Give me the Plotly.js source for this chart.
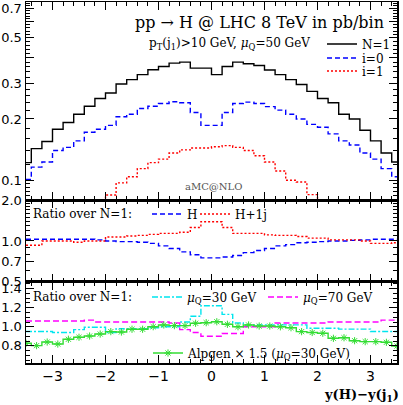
<!DOCTYPE html>
<html>
<head>
<meta charset="utf-8">
<script src="https://cdn.plot.ly/plotly-3.0.1.min.js"></script>
<style>
html, body { margin: 0; padding: 0; background: #fff; }
#plot { width: 403px; height: 405px; }
</style>
</head>
<body>
<div id="plot"></div>
<script>
// bin centres of y(H)-y(j1), bins are 0.2 wide
let binCentres = [-3.5, -3.3, -3.1, -2.9, -2.7, -2.5, -2.3, -2.1, -1.9, -1.7, -1.5, -1.3,
    -1.1, -0.9, -0.7, -0.5, -0.3, -0.1, 0.1, 0.3, 0.5, 0.7, 0.9, 1.1,
    1.3, 1.5, 1.7, 1.9, 2.1, 2.3, 2.5, 2.7, 2.9, 3.1, 3.3, 3.5];

// top panel, pb/bin
let sigmaN1 = [0.122, 0.143, 0.155, 0.178, 0.192, 0.211, 0.231, 0.252, 0.268, 0.297, 0.312, 0.330,
    0.349, 0.362, 0.376, 0.380, 0.355, 0.355, 0.330, 0.362, 0.380, 0.373, 0.366, 0.348,
    0.330, 0.312, 0.295, 0.273, 0.252, 0.240, 0.211, 0.200, 0.176, 0.156, 0.136, 0.123];
let sigmaI0 = [0.101, 0.116, 0.123, 0.140, 0.145, 0.156, 0.172, 0.178, 0.186, 0.205, 0.211, 0.225,
    0.231, 0.238, 0.243, 0.240, 0.215, 0.186, 0.186, 0.215, 0.238, 0.242, 0.238, 0.230,
    0.221, 0.211, 0.200, 0.188, 0.182, 0.169, 0.156, 0.149, 0.136, 0.127, 0.114, 0.104];
let sigmaI1 = [0.045, 0.050, 0.055, 0.058, 0.062, 0.066, 0.070, 0.076, 0.0846, 0.0971, 0.104, 0.114,
    0.122, 0.127, 0.136, 0.141, 0.144, 0.144, 0.146, 0.148, 0.145, 0.140, 0.132, 0.123,
    0.111, 0.100, 0.098, 0.085, 0.076, 0.070, 0.066, 0.062, 0.058, 0.055, 0.050, 0.045];

// middle panel, ratio over N=1
let ratioH = [1.03, 1.03, 1.03, 1.03, 1.03, 1.03, 1.03, 1.02, 1.00, 0.99, 0.99, 0.98,
    0.96, 0.92, 0.88, 0.83, 0.79, 0.75, 0.75, 0.76, 0.78, 0.82, 0.85, 0.88,
    0.92, 0.94, 0.97, 0.98, 0.99, 1.00, 1.00, 1.01, 1.02, 1.03, 1.03, 1.03];
let ratioH1j = [0.93, 0.93, 1.00, 1.00, 1.00, 0.98, 1.00, 1.00, 1.07, 1.07, 1.09, 1.10,
    1.12, 1.14, 1.14, 1.16, 1.26, 1.39, 1.39, 1.26, 1.14, 1.14, 1.14, 1.11,
    1.10, 1.10, 1.08, 1.05, 1.05, 1.02, 1.02, 1.02, 1.00, 0.96, 0.96, 0.97];

// bottom panel, ratio over N=1
let ratioMu30 = [0.95, 0.95, 0.95, 0.94, 0.94, 0.97, 0.995, 0.995, 0.94, 0.98, 0.98, 0.98,
    0.99, 1.00, 1.00, 1.05, 1.11, 1.22, 1.22, 1.13, 1.04, 1.02, 1.02, 1.02,
    1.02, 1.02, 1.02, 0.985, 0.985, 0.985, 0.975, 0.975, 0.975, 0.95, 0.95, 0.95];
let ratioMu70 = [1.06, 1.06, 1.06, 1.06, 1.06, 1.06, 1.07, 1.05, 1.05, 1.05, 1.05, 1.05,
    1.05, 1.05, 1.04, 0.97, 0.94, 0.90, 0.90, 0.93, 0.93, 1.00, 1.00, 1.00,
    1.04, 1.04, 1.04, 1.04, 1.04, 1.05, 1.05, 1.05, 1.05, 1.05, 1.07, 1.07];
let ratioAlpgen = [0.827, 0.802, 0.840, 0.819, 0.869, 0.890, 0.903, 0.924, 0.949, 0.945, 0.974, 0.974,
    1.001, 1.019, 1.012, 1.012, 1.037, 1.043, 1.053, 1.026, 1.001, 1.019, 1.008, 1.008,
    1.000, 0.990, 0.949, 0.940, 0.932, 0.879, 0.885, 0.854, 0.844, 0.844, 0.837, 0.798];

let serif = "DejaVu Serif";
let sans = "DejaVu Sans";

// plot area is 371 x 361 px starting at (26, 2)
function px(x) { return (x - 26) / 371; }
function py(y) { return (363 - y) / 361; }

function hist(y, xa, ya, name, color, dash, leg) {
    return {
        x: binCentres, y: y, xaxis: xa, yaxis: ya, name: name, legend: leg, showlegend: true,
        mode: "lines", line: {shape: "hvh", color: color, width: 1.4, dash: dash},
        hoverinfo: "skip"
    };
}

let alpgen = hist(ratioAlpgen, "x3", "y3", "Alpgen \u00d7 1.5 (<i>\u03bc</i><sub>Q</sub>=30 GeV)", "#33dd33", "solid", "legend8");
alpgen.mode = "lines+markers";
alpgen.marker = {symbol: "asterisk-open", size: 6, color: "#33dd33", line: {color: "#33dd33", width: 1}};

let data = [
    hist(sigmaN1, "x", "y", "N=1", "black", "solid", "legend"),
    hist(sigmaI0, "x", "y", "i=0", "#0000ff", "5px,3px", "legend2"),
    hist(sigmaI1, "x", "y", "i=1", "#ff0000", "2px,2px", "legend3"),
    hist(ratioH, "x2", "y2", "H", "#0000ff", "5px,3px", "legend4"),
    hist(ratioH1j, "x2", "y2", "H+1j", "#ff0000", "2px,2px", "legend5"),
    hist(ratioMu30, "x3", "y3", "<i>\u03bc</i><sub>Q</sub>=30 GeV", "#00e5ee", "6px,2px,2px,2px", "legend6"),
    hist(ratioMu70, "x3", "y3", "<i>\u03bc</i><sub>Q</sub>=70 GeV", "#ff00ff", "6px,3px", "legend7"),
    alpgen
];

// minor tick positions
function steps(a, b, d) {
    let out = [];
    for (let v = a; v <= b + 1e-9; v += d) out.push(+v.toFixed(4));
    return out;
}

let frame = {
    showline: true, linecolor: "black", linewidth: 1.5, mirror: "allticks",
    ticks: "inside", ticklen: 8, tickwidth: 1, tickcolor: "black",
    showgrid: false, zeroline: false,
    tickfont: {family: sans, size: 13, color: "black"}
};

function xAxis(anchor, labels) {
    return Object.assign({}, frame, {
        anchor: anchor, domain: [0, 1], range: [-3.5, 3.5],
        tickmode: "linear", tick0: 0, dtick: 1, showticklabels: labels,
        tickfont: {family: sans, size: 14, color: "black"},
        minor: {ticks: "inside", ticklen: 4, tickcolor: "black", dtick: 0.2, tick0: 0}
    });
}

function legendAt(x, y) {
    return {
        visible: true,
        x: x, y: y, xanchor: "left", yanchor: "middle",
        bgcolor: "rgba(0,0,0,0)", borderwidth: 0, itemwidth: 30,
        font: {family: serif, size: 12, color: "black"}
    };
}

let layout = {
    width: 403, height: 405,
    showlegend: true,
    margin: {l: 26, r: 6, t: 2, b: 42},
    paper_bgcolor: "white", plot_bgcolor: "white",
    xaxis: Object.assign(xAxis("y", false), {matches: "x3"}),
    xaxis2: Object.assign(xAxis("y2", false), {matches: "x3"}),
    xaxis3: xAxis("y3", true),
    yaxis: Object.assign({}, frame, {
        domain: [0.4515, 1], type: "log",
        range: [Math.log10(0.08), Math.log10(0.75)],
        tickmode: "array",
        tickvals: [0.1, 0.2, 0.3, 0.4, 0.5, 0.6, 0.7],
        ticktext: ["0.1", "0.2", "0.3", "", "0.5", "", "0.7"],
        minor: {ticks: "inside", ticklen: 4, tickcolor: "black", tickmode: "array",
            tickvals: steps(0.084, 0.096, 0.004).concat(steps(0.12, 0.18, 0.02), steps(0.22, 0.28, 0.02),
                steps(0.32, 0.38, 0.02), steps(0.42, 0.48, 0.02), steps(0.52, 0.58, 0.02), steps(0.62, 0.74, 0.02))}
    }),
    yaxis2: Object.assign({}, frame, {
        domain: [0.2244, 0.4515], type: "log",
        range: [Math.log10(0.5) - 0.003, Math.log10(2) + 0.003],
        tickmode: "array",
        tickvals: [0.5, 0.7, 1.0, 2.0],
        ticktext: ["0.5", "0.7", "1.0", "2.0"],
        minor: {ticks: "inside", ticklen: 4, tickcolor: "black", tickmode: "array",
            tickvals: steps(0.6, 0.6, 0.1).concat(steps(0.8, 0.9, 0.1), steps(1.1, 1.9, 0.1))}
    }),
    yaxis3: Object.assign({}, frame, {
        domain: [0, 0.2244],
        range: [0.62, 1.47],
        tickmode: "array",
        tickvals: [0.8, 1.0, 1.2, 1.4],
        ticktext: ["0.8", "1.0", "1.2", "1.4"],
        minor: {ticks: "inside", ticklen: 4, tickcolor: "black", dtick: 0.05, tick0: 0}
    }),
    legend: legendAt(px(322), py(44)),
    legend2: legendAt(px(322), py(58)),
    legend3: legendAt(px(322), py(71)),
    legend4: legendAt(px(147), py(214)),
    legend5: legendAt(px(195), py(214)),
    legend6: legendAt(px(147), py(297)),
    legend7: legendAt(px(263), py(297)),
    legend8: legendAt(px(148), py(353)),
    annotations: [
        {text: "pp \u2192 H @ LHC 8 TeV in pb/bin", xref: "paper", yref: "paper",
            x: px(386), y: py(22), xanchor: "right", yanchor: "middle", showarrow: false,
            font: {family: serif, size: 16, color: "black"}},
        {text: "p<sub>T</sub>(j<sub>1</sub>)>10 GeV, <i>\u03bc</i><sub>Q</sub>=50 GeV", xref: "paper", yref: "paper",
            x: px(147), y: py(44), xanchor: "left", yanchor: "middle", showarrow: false,
            font: {family: serif, size: 12, color: "black"}},
        {text: "aMC@NLO", xref: "paper", yref: "paper",
            x: px(213), y: py(186), xanchor: "center", yanchor: "middle", showarrow: false,
            font: {family: serif, size: 10, color: "#555"}},
        {text: "Ratio over N=1:", xref: "paper", yref: "paper",
            x: px(31), y: py(214), xanchor: "left", yanchor: "middle", showarrow: false,
            font: {family: serif, size: 12, color: "black"}},
        {text: "Ratio over N=1:", xref: "paper", yref: "paper",
            x: px(31), y: py(297), xanchor: "left", yanchor: "middle", showarrow: false,
            font: {family: serif, size: 12, color: "black"}},
        {text: "<b>y(H)\u2212y(j<sub>1</sub>)</b>", xref: "paper", yref: "paper",
            x: px(401), y: py(395), xanchor: "right", yanchor: "middle", showarrow: false,
            font: {family: serif, size: 13, color: "black"}}
    ]
};

Plotly.newPlot("plot", data, layout, {staticPlot: true});
</script>
</body>
</html>
